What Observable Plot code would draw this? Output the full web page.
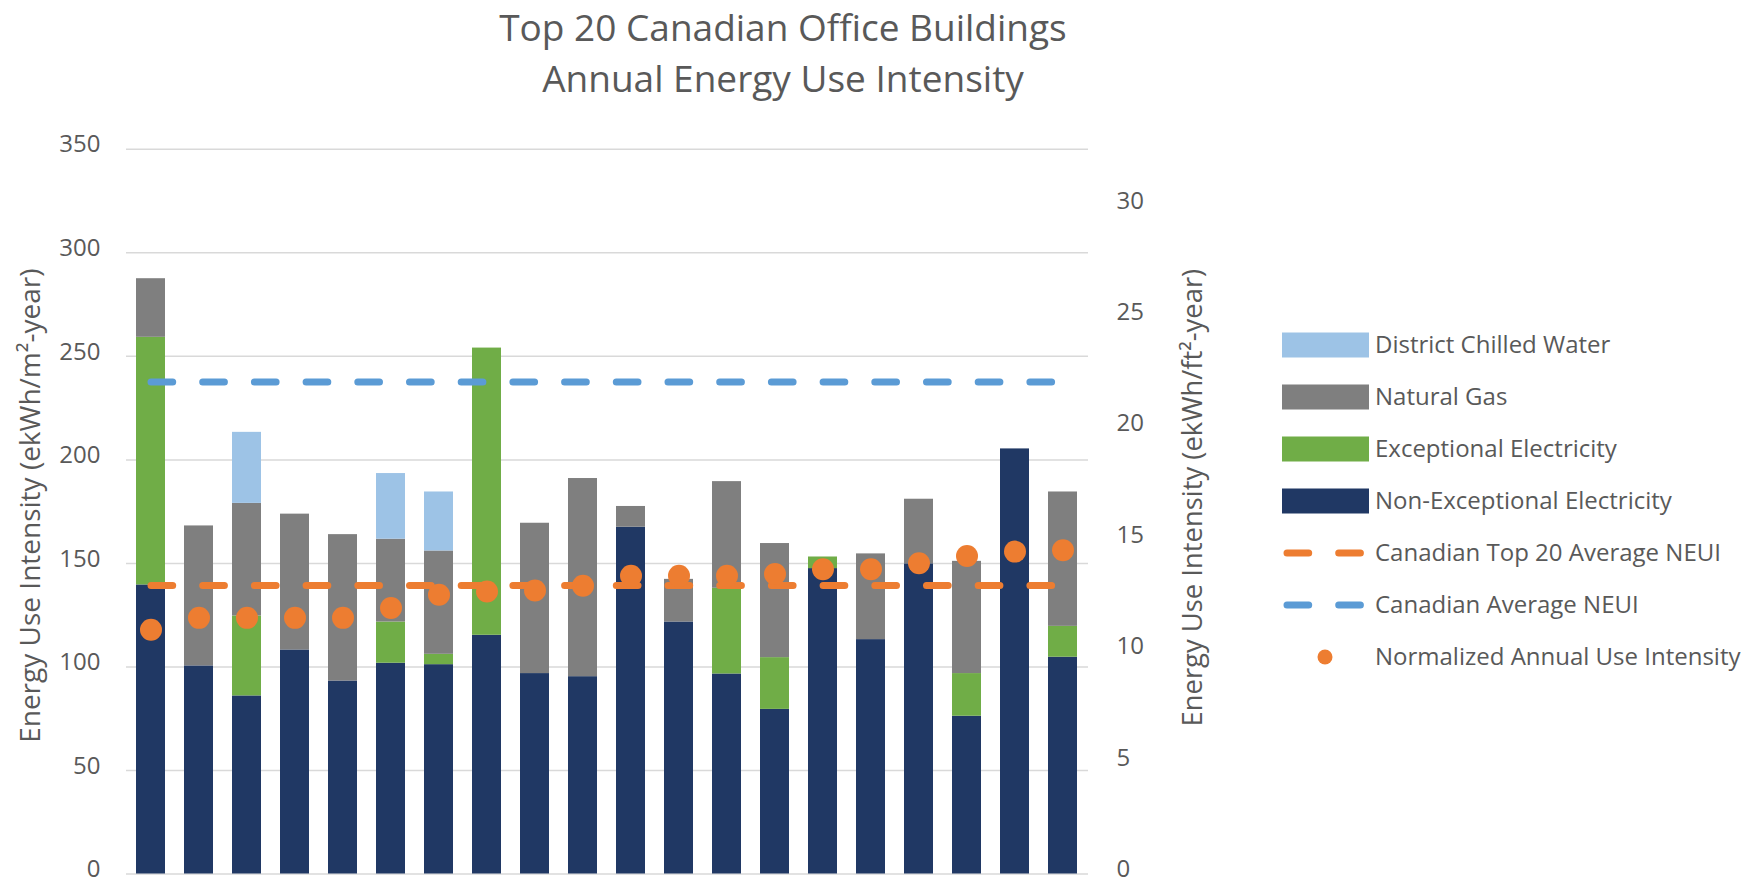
<!DOCTYPE html>
<html><head><meta charset="utf-8">
<script src="https://cdn.jsdelivr.net/npm/d3@7"></script>
<script src="https://cdn.jsdelivr.net/npm/@observablehq/plot@0.6"></script>
<style>
body{margin:0;background:#fff;font-family:"Open Sans",sans-serif;color:#595959}
#wrap{position:relative;width:1750px;height:883px;overflow:hidden;background:#fff}
#title{position:absolute;left:0;top:0}
#chart{position:absolute;left:0;top:110px}
#legend{position:absolute;left:1270px;top:320px}
</style></head><body>
<div id="wrap">
  <svg id="title" width="1750" height="110"></svg>
  <div id="chart"></div>
  <svg id="legend" width="480" height="370"></svg>
</div>
<script>
// ---------- data (ekWh/m²-year) ----------
const titleLines = ["Top 20 Canadian Office Buildings", "Annual Energy Use Intensity"];
const buildings = ["1","2","3","4","5","6","7","8","9","10","11","12","13","14","15","16","17","18","19","20"];
const nonExceptional = [139.6,100.5,86.0,108.2,93.2,101.8,101.1,115.3,96.8,95.3,167.5,121.7,96.6,79.5,147.5,113.2,149.8,76.2,205.3,104.7];
const exceptional    = [119.6,0,38.6,0,0,19.9,5.0,138.7,0,0,0,0,41.4,25.0,5.6,0,0,20.6,0,14.9];
const naturalGas     = [28.3,67.6,54.4,65.6,70.7,40.0,49.9,0,72.6,95.7,10.0,20.6,51.5,55.1,0,41.4,31.2,54.2,0,64.9];
const chilledWater   = [0,0,34.3,0,0,31.7,28.5,0,0,0,0,0,0,0,0,0,0,0,0,0];
const normalized     = [118.0,123.7,123.7,123.7,123.7,128.5,134.9,136.4,136.9,139.2,144.0,144.0,144.0,144.9,147.2,147.2,150.1,153.6,155.7,156.4];
const top20Average = 139.3;
const canadianAverage = 237.6;
const leftTicks = [0,50,100,150,200,250,300,350];
const rightTicks = [0,5,10,15,20,25,30];   // ekWh/ft²-year
const M2_PER_FT2 = 10.764;
const seriesNames = ["Non-Exceptional Electricity","Exceptional Electricity","Natural Gas","District Chilled Water"];
const seriesColors = ["#203864","#70AD47","#7F7F7F","#9DC3E6"];
const lineNames = ["Canadian Top 20 Average NEUI","Canadian Average NEUI","Normalized Annual Use Intensity"];
const lineColors = ["#ED7D31","#5B9BD5","#ED7D31"];
const leftTitle = "Energy Use Intensity (ekWh/m²-year)";
const rightTitle = "Energy Use Intensity (ekWh/ft²-year)";

// ---------- tables ----------
const seriesArrays = [nonExceptional, exceptional, naturalGas, chilledWater];
const stacked = [];
buildings.forEach((b, i) => seriesNames.forEach((s, k) => stacked.push({b, s, v: seriesArrays[k][i]})));
const perBuilding = buildings.map((b, i) => ({b, n: normalized[i], top: top20Average, can: canadianAverage}));

const TXT = "#595959";
const dash = "21.7,30";

const chart = Plot.plot({
  width: 1750,
  height: 773,
  marginLeft: 126,
  marginRight: 662,
  marginTop: 38.8,
  marginBottom: 9.5,
  style: {fontFamily: "'Open Sans', sans-serif", fontSize: "24px", color: TXT, background: "#fff"},
  x: {domain: buildings, paddingInner: 0.39, paddingOuter: 0.195, axis: null},
  y: {domain: [0, 350]},
  color: {domain: seriesNames, range: seriesColors},
  marks: [
    Plot.gridY(leftTicks, {stroke: "#D9D9D9", strokeOpacity: 1, strokeWidth: 1.5}),
    Plot.barY(stacked, {x: "b", y: "v", fill: "s", order: seriesNames}),
    Plot.lineY(perBuilding, {x: "b", y: "can", stroke: lineColors[1], strokeWidth: 7, strokeDasharray: dash, strokeLinecap: "round"}),
    Plot.lineY(perBuilding, {x: "b", y: "top", stroke: lineColors[0], strokeWidth: 7, strokeDasharray: dash, strokeLinecap: "round"}),
    Plot.dot(perBuilding, {x: "b", y: "n", r: 11, fill: lineColors[2], stroke: "none"}),
    Plot.axisY(leftTicks, {anchor: "left", tickSize: 0, tickPadding: 26, label: null, fill: TXT, dy: -4.5}),
    Plot.axisY(rightTicks.map(v => v * M2_PER_FT2), {anchor: "right", tickSize: 0, tickPadding: 28, label: null, fill: TXT, dy: -4.5,
      tickFormat: d => String(Math.round(d / M2_PER_FT2))}),
    Plot.text([leftTitle], {frameAnchor: "left", dx: -95, dy: -6, rotate: -90, fontSize: 28, fill: TXT, textAnchor: "middle"}),
    Plot.text([rightTitle], {frameAnchor: "right", dx: 105, dy: -14, rotate: -90, fontSize: 27.4, fill: TXT, textAnchor: "middle"})
  ]
});
document.getElementById("chart").appendChild(chart);

// ---------- title ----------
const t = d3.select("#title");
titleLines.forEach((line, i) => {
  t.append("text").attr("x", 783).attr("y", 40.5 + i * 51.5).attr("text-anchor", "middle")
    .attr("font-family", "'Open Sans', sans-serif").attr("font-size", 37).attr("fill", TXT).text(line);
});

// ---------- legend ----------
const lg = d3.select("#legend");
const legendItems = [
  {name: seriesNames[3], type: "rect", color: seriesColors[3]},
  {name: seriesNames[2], type: "rect", color: seriesColors[2]},
  {name: seriesNames[1], type: "rect", color: seriesColors[1]},
  {name: seriesNames[0], type: "rect", color: seriesColors[0]},
  {name: lineNames[0], type: "line", color: lineColors[0]},
  {name: lineNames[1], type: "line", color: lineColors[1]},
  {name: lineNames[2], type: "dot", color: lineColors[2]}
];
legendItems.forEach((it, i) => {
  const cy = 25 + i * 52;
  const g = lg.append("g");
  if (it.type === "rect") {
    g.append("rect").attr("x", 12).attr("y", cy - 12.5).attr("width", 87).attr("height", 25).attr("fill", it.color);
  } else if (it.type === "line") {
    g.append("line").attr("x1", 17).attr("x2", 95).attr("y1", cy).attr("y2", cy)
      .attr("stroke", it.color).attr("stroke-width", 7).attr("stroke-dasharray", dash).attr("stroke-linecap", "round");
  } else {
    g.append("circle").attr("cx", 55).attr("cy", cy).attr("r", 7.5).attr("fill", it.color);
  }
  g.append("text").attr("x", 105).attr("y", cy).attr("dy", "0.35em")
    .attr("font-family", "'Open Sans', sans-serif").attr("font-size", 24).attr("fill", TXT).text(it.name);
});
</script>
</body></html>
